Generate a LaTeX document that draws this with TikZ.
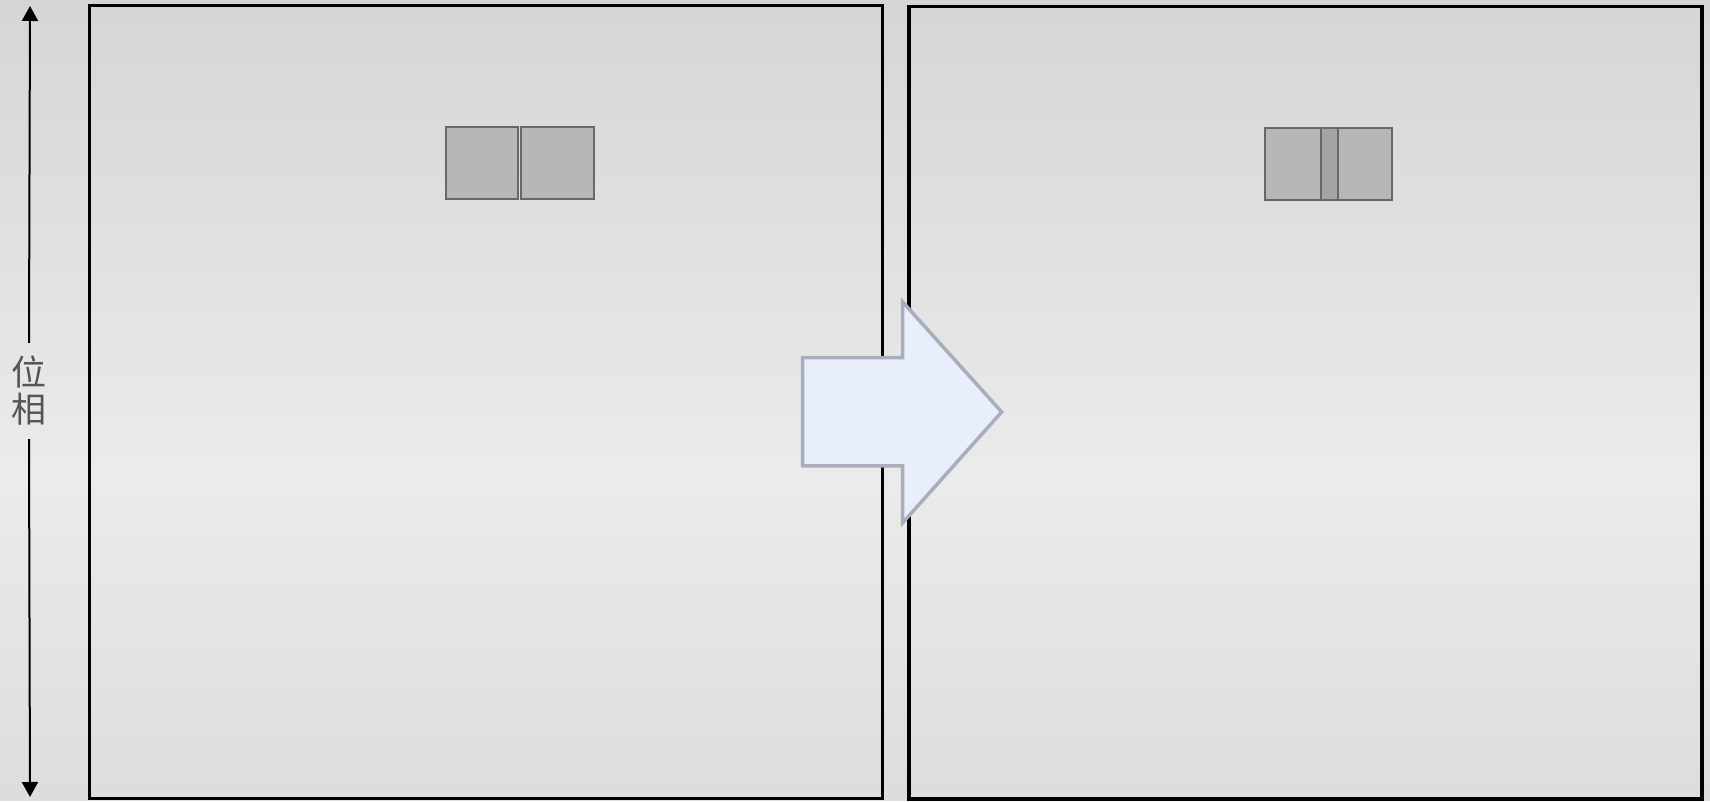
\documentclass[tikz,border=0pt]{standalone}
\usepackage{fontspec}
\usepackage{tikz}
\usetikzlibrary{arrows.meta}
\newfontfamily\cjk{Noto Sans CJK SC}
\definecolor{bgtop}{RGB}{213,213,213}
\definecolor{bgmid}{RGB}{235,235,235}
\definecolor{bgbot}{RGB}{221,221,221}
\definecolor{frameline}{gray}{0}
\definecolor{cellfill}{RGB}{183,183,183}
\definecolor{cellline}{RGB}{104,104,104}
\definecolor{overlapfill}{RGB}{164,164,164}
\definecolor{arrowfill}{RGB}{232,238,252}
\definecolor{arrowline}{RGB}{168,174,187}
\definecolor{labeltext}{RGB}{85,85,85}

\tikzset{
  panel/.style={draw=frameline,line width=3.5pt},
  cell/.style={draw=cellline,fill=cellfill,line width=2pt},
  axisarrow/.style={line width=2pt,-{Triangle[length=15pt,width=16pt]}},
}

\begin{document}
\begin{tikzpicture}[x=1pt,y=1pt]
  \useasboundingbox (0,0) rectangle (1710,801);

  % background gradient, in strips
  \foreach \i in {0,...,35} {
    \pgfmathsetmacro\mixpct{(36-\i)/36*100}
    \fill[bgbot!\mixpct!bgmid] (0,\i*8.9) rectangle (1710,\i*8.9+9.4);
  }
  \foreach \i in {36,...,89} {
    \pgfmathsetmacro\mixpct{(\i-36)/54*100}
    \fill[bgtop!\mixpct!bgmid] (0,\i*8.9) rectangle (1710,\i*8.9+9.4);
  }

  % phase axis
  \coordinate (axtop) at (30,795);
  \coordinate (axbot) at (30,4);
  \node[font=\cjk\fontsize{35}{37}\selectfont,text=labeltext,
    align=center,inner sep=0pt,minimum height=96pt] (phase) at (29,410)
    {位\\相};
  \draw[axisarrow] (phase.north) -- (axtop);
  \draw[axisarrow] (phase.south) -- (axbot);

  % panels
  \draw[panel] (89.5,2.5) rectangle (882.5,795.5);
  \draw[panel] (909,2) rectangle (1702,794.5);

  % left pair of cells
  \draw[cell] (445.7,601.7) rectangle (517.7,674.3);
  \draw[cell] (520.7,601.7) rectangle (593.7,674.3);

  % right pair, overlapping
  \draw[cell] (1265,601) rectangle (1337.7,673);
  \draw[cell] (1321,601) rectangle (1392.3,673);
  \draw[cellline,fill=overlapfill,line width=2pt]
    (1321,601) rectangle (1337.7,673);

  % block arrow
  \draw[arrowline,fill=arrowfill,line width=3.5pt,line join=miter]
    (802.7,443.3) -- (902.7,443.3) -- (902.7,499) -- (1001.7,389)
    -- (902.7,278.3) -- (902.7,335) -- (802.7,335) -- cycle;
\end{tikzpicture}
\end{document}
